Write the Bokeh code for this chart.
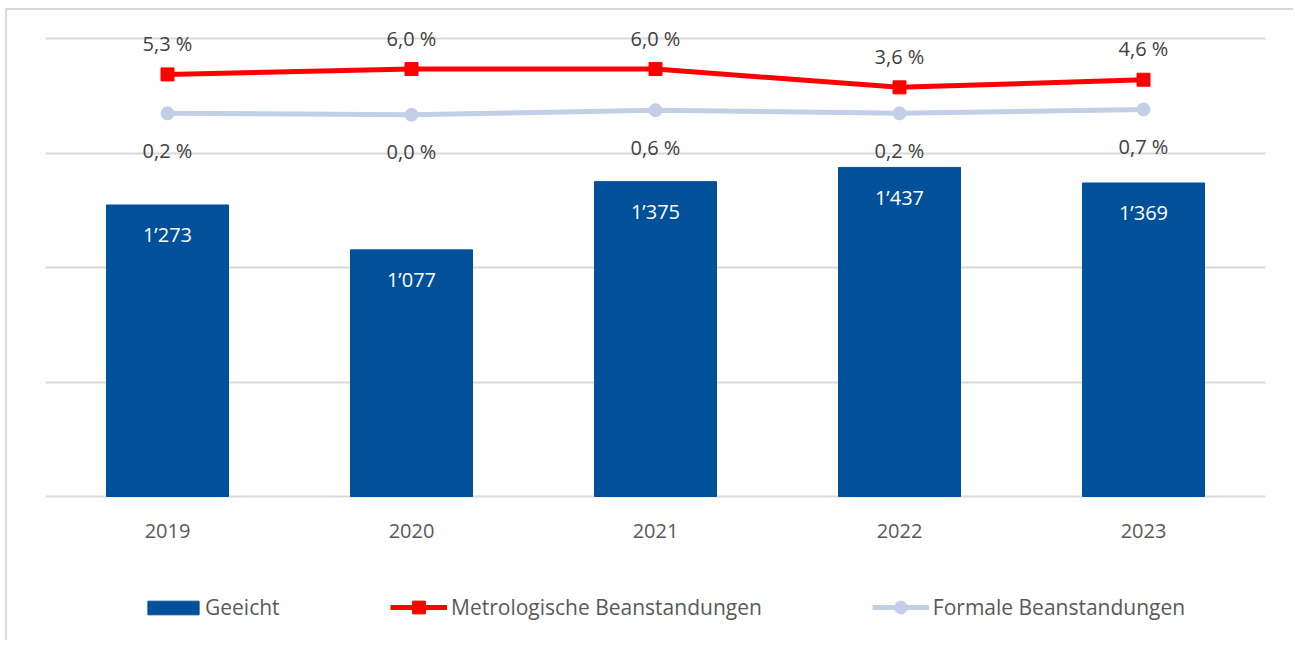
from bokeh.plotting import figure
from bokeh.models import (ColumnDataSource, LabelSet, Legend, LegendItem,
                          Range1d, FactorRange, FixedTicker)
from bokeh.embed import file_html
from bokeh.resources import INLINE
from bokeh.core.properties import value

# ---- data ----
years = ["2019", "2020", "2021", "2022", "2023"]
geeicht = [1273, 1077, 1375, 1437, 1369]
metrologische = [5.3, 6.0, 6.0, 3.6, 4.6]
formale = [0.2, 0.0, 0.6, 0.2, 0.7]
series_names = ["Geeicht", "Metrologische Beanstandungen", "Formale Beanstandungen"]
bar_ticks = [0, 500, 1000, 1500, 2000]
bar_axis = (0, 2000)        # primary (hidden) axis
pct_axis = (-50, 10)        # secondary (hidden) axis, in %


def fmt_int(v):
    return f"{v:,}".replace(",", "\u2019")


def fmt_pct(v):
    return f"{v:.1f} %".replace(".", ",")


src = ColumnDataSource(dict(
    year=years,
    base=[bar_axis[0]] * len(years),
    geeicht=geeicht,
    metro=metrologische,
    formal=formale,
    glab=[fmt_int(v) for v in geeicht],
    mlab=[fmt_pct(v) for v in metrologische],
    flab=[fmt_pct(v) for v in formale],
))

FONT = "Open Sans"
BLUE = "#01519A"
RED = "#FF0000"
GRAY = "#C3CFE7"

# ---- layout geometry (pixels) ----
W, H = 1288, 632
GRID_H = 458          # pixel height between the 0 line and the top grid line
PAD_TOP = 28          # frame pixels above the top grid line
PAD_BOT = H - GRID_H - PAD_TOP   # frame pixels below the baseline


def extend(lo, hi):
    k = GRID_H / (hi - lo)
    return lo - PAD_BOT / k, hi + PAD_TOP / k


p = figure(x_range=FactorRange(*years), y_range=Range1d(*extend(*bar_axis)),
           width=W, height=H, output_backend="svg", toolbar_location=None,
           min_border_left=38, min_border_right=30, min_border_top=0,
           min_border_bottom=0)
p.extra_y_ranges = {"pct": Range1d(*extend(*pct_axis))}
p.outline_line_color = None
p.background_fill_color = "white"
p.border_fill_color = "white"
p.styles = {"margin-left": "5px", "margin-top": "8px",
            "border-top": "2px solid #d9d9d9", "border-left": "2px solid #d9d9d9"}

p.xaxis.visible = False
p.yaxis.visible = False
p.xgrid.visible = False
p.ygrid.ticker = FixedTicker(ticks=bar_ticks)
p.ygrid.grid_line_color = "#d9d9d9"
p.ygrid.grid_line_width = 2

bars = p.vbar(x="year", top="geeicht", bottom="base", width=0.5, color=BLUE,
              source=src)

l1 = p.line(x="year", y="metro", source=src, y_range_name="pct",
            line_color=RED, line_width=5)
m1 = p.scatter(x="year", y="metro", source=src, y_range_name="pct",
               marker="square", size=13, color=RED)
l2 = p.line(x="year", y="formal", source=src, y_range_name="pct",
            line_color=GRAY, line_width=5)
m2 = p.scatter(x="year", y="formal", source=src, y_range_name="pct",
               marker="circle", size=13, color=GRAY)

# category labels (in place of the x axis)
p.add_layout(LabelSet(x="year", y="base", text="year", source=src,
                      y_offset=-34, text_align="center", text_baseline="middle",
                      text_color="#595959", text_font=value(FONT),
                      text_font_size="20px"))
# data labels
p.add_layout(LabelSet(x="year", y="geeicht", text="glab", source=src,
                      y_offset=-30, text_align="center", text_baseline="middle",
                      text_color="white", text_font=value(FONT),
                      text_font_size="20px"))
p.add_layout(LabelSet(x="year", y="metro", text="mlab", source=src,
                      y_range_name="pct", y_offset=31, text_align="center",
                      text_baseline="middle", text_color="#404040",
                      text_font=value(FONT), text_font_size="20px"))
p.add_layout(LabelSet(x="year", y="formal", text="flab", source=src,
                      y_range_name="pct", y_offset=-37, text_align="center",
                      text_baseline="middle", text_color="#404040",
                      text_font=value(FONT), text_font_size="20px"))

leg_common = dict(orientation="horizontal", padding=0, margin=0,
                  border_line_color=None, background_fill_alpha=0,
                  label_text_font=FONT, label_text_font_size="21px",
                  label_text_color="#595959", spacing=110)

leg1 = Legend(items=[LegendItem(label=series_names[0], renderers=[bars])],
              location=(96, 21), glyph_width=64, glyph_height=17,
              label_standoff=0, **leg_common)
leg2 = Legend(items=[LegendItem(label=series_names[1], renderers=[l1, m1]),
                     LegendItem(label=series_names[2], renderers=[l2, m2])],
              location=(345, 19), glyph_width=57, glyph_height=32,
              label_standoff=4, **leg_common)
p.add_layout(leg1)
p.add_layout(leg2)

open("out.html", "w").write(file_html(p, INLINE))
